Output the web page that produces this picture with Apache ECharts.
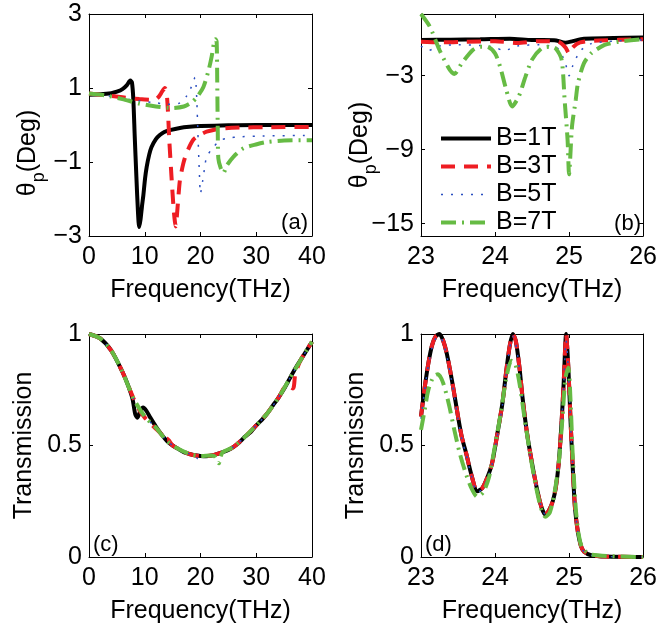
<!DOCTYPE html>
<html>
<head>
<meta charset="utf-8">
<script src="https://cdn.jsdelivr.net/npm/echarts@6/dist/echarts.min.js"></script>
<style>
html,body{margin:0;padding:0;background:#fff;}
#chart{width:660px;height:630px;}
</style>
</head>
<body>
<div id="chart"></div>
<script>
// ---------- data ----------
const seriesNames = ['B=1T', 'B=3T', 'B=5T', 'B=7T'];
const panelTags = ['(a)', '(b)', '(c)', '(d)'];
const xLabelName = 'Frequency(THz)';
const yLabelTheta = ['θ', 'p', '(Deg)'];
const yLabelTrans = 'Transmission';

const xTicksWide = [0, 10, 20, 30, 40];
const xTicksNarrow = [23, 24, 25, 26];
const yTicksA = [-3, -1, 1, 3];
const yTicksB = [-15, -9, -3];
const yTicksT = [0, 0.5, 1];

// panel (a): rotation angle vs frequency 0-40 THz
const a_B1 = [[0,0.82],[2,0.83],[4,0.86],[5,0.9],[6,0.97],[6.8,1.08],[7.4,1.2],[7.7,1.15],[7.95,0.7],[8.2,-0.3],[8.5,-1.4],[8.8,-2.4],[9.0,-2.76],[9.25,-2.55],[9.5,-2.2],[9.75,-1.9],[10.05,-1.45],[10.35,-1.13],[10.8,-0.8],[11.2,-0.6],[12,-0.38],[12.7,-0.27],[13.5,-0.19],[14.5,-0.14],[16.3,-0.08],[18,-0.05],[20,-0.03],[25,-0.01],[30,0],[40,0]];
const a_B3 = [[0,0.85],[3,0.8],[6,0.75],[9,0.7],[11,0.68],[12,0.7],[12.6,0.78],[13.1,0.9],[13.6,1.0],[13.9,0.9],[14.15,0.4],[14.4,-0.4],[14.8,-1.4],[15.2,-2.3],[15.55,-2.74],[15.9,-2.2],[16.3,-1.5],[16.9,-1.05],[17.5,-0.76],[18.7,-0.4],[20,-0.26],[21.1,-0.18],[23.5,-0.1],[27,-0.07],[32,-0.06],[40,-0.05]];
const a_B5 = [[0,0.85],[3,0.8],[6,0.72],[9,0.65],[12,0.6],[14,0.56],[16,0.58],[16.8,0.65],[17.5,0.78],[18.2,0.98],[18.7,1.15],[19.0,1.29],[19.2,1.1],[19.4,0.4],[19.6,-0.5],[19.8,-1.3],[20.0,-1.85],[20.4,-1.5],[20.8,-1.1],[21.1,-0.86],[22.3,-0.6],[23.5,-0.42],[25,-0.35],[27,-0.32],[30,-0.3],[40,-0.28]];
const a_B7 = [[0,0.85],[3,0.8],[6,0.7],[9,0.58],[12,0.5],[15,0.46],[17,0.5],[18.5,0.62],[19.5,0.78],[20.5,1.02],[21.4,1.45],[22.0,1.85],[22.4,2.2],[22.7,2.32],[22.9,2.25],[23.0,1.2],[23.1,-0.2],[23.2,-0.9],[23.6,-1.15],[24.1,-1.3],[24.7,-1.1],[25.9,-0.86],[27.7,-0.63],[30.1,-0.52],[31.9,-0.46],[35,-0.42],[40,-0.41]];

// panel (b): rotation angle vs frequency 23-26 THz
const b_B1 = [[23,-0.11],[23.4,-0.08],[23.8,-0.05],[24.2,0],[24.5,-0.11],[24.8,-0.12],[24.95,-0.33],[25.05,-0.2],[25.2,0],[25.6,0.05],[26,0.1]];
const b_B3 = [[23,-0.25],[23.3,-0.3],[23.6,-0.25],[24,-0.2],[24.3,-0.35],[24.6,-0.2],[24.85,-0.25],[24.95,-0.7],[25.0,-1.2],[25.05,-0.7],[25.15,-0.3],[25.4,-0.15],[26,-0.05]];
const b_B5 = [[23,-0.6],[23.1,-0.95],[23.25,-0.6],[23.5,-0.5],[23.8,-0.55],[24.0,-0.7],[24.12,-0.97],[24.3,-0.6],[24.6,-0.5],[24.85,-0.8],[24.95,-2.0],[25.0,-3.0],[25.05,-2.2],[25.15,-1.0],[25.3,-0.4],[25.6,-0.2],[26,-0.1]];
const b_B7 = [[23,2.0],[23.12,0.97],[23.25,-0.92],[23.39,-2.54],[23.45,-2.87],[23.55,-2.0],[23.7,-0.92],[23.8,-0.65],[23.89,-0.65],[24.0,-1.19],[24.07,-2.3],[24.15,-4.1],[24.23,-5.5],[24.32,-4.7],[24.41,-3.1],[24.5,-1.7],[24.63,-0.78],[24.75,-0.65],[24.82,-0.8],[24.9,-1.73],[24.94,-4.97],[24.98,-8.2],[25.0,-11.0],[25.04,-7.1],[25.09,-4.97],[25.12,-3.62],[25.2,-2.0],[25.3,-1.19],[25.48,-0.51],[25.67,-0.24],[26,-0.05]];

// panel (c): transmission vs frequency 0-40 THz
const c_B1 = [[0,1.0],[2,0.98],[4,0.925],[6,0.83],[7,0.77],[7.8,0.71],[8.3,0.64],[8.7,0.625],[9.2,0.655],[9.7,0.67],[10.3,0.655],[11,0.625],[12,0.585],[13,0.55],[14,0.52],[15,0.5],[16,0.485],[17,0.47],[18,0.462],[19,0.456],[20,0.453],[21,0.452],[22,0.455],[23,0.462],[24,0.47],[25,0.48],[26,0.495],[27,0.515],[28,0.54],[29,0.56],[30,0.59],[31,0.615],[32,0.645],[33,0.68],[34,0.715],[35,0.755],[36,0.8],[37,0.845],[38,0.885],[39,0.925],[40,0.965]];
const c_B3 = [[0,1.0],[2,0.98],[4,0.925],[6,0.83],[8,0.71],[9,0.66],[10,0.625],[11,0.6],[12,0.575],[13,0.55],[13.6,0.52],[14,0.53],[15,0.5],[16,0.485],[18,0.462],[20,0.453],[22,0.455],[24,0.47],[26,0.495],[28,0.54],[30,0.59],[32,0.645],[34,0.715],[35.5,0.77],[36.6,0.756],[37,0.82],[38,0.885],[40,0.965]];
const c_B5 = [[0,1.0],[2,0.98],[4,0.925],[6,0.83],[8,0.71],[10,0.63],[12,0.58],[14,0.52],[16,0.485],[18,0.462],[19,0.456],[19.5,0.44],[20,0.435],[20.4,0.452],[22,0.455],[24,0.47],[26,0.495],[28,0.54],[30,0.59],[32,0.645],[34,0.715],[36,0.8],[38,0.885],[40,0.965]];
const c_B7 = [[0,1.0],[2,0.98],[4,0.925],[6,0.83],[8,0.71],[10,0.63],[12,0.58],[14,0.52],[16,0.485],[18,0.462],[20,0.453],[22,0.455],[22.6,0.45],[23,0.43],[23.3,0.42],[23.6,0.45],[24,0.47],[26,0.495],[28,0.54],[30,0.59],[32,0.645],[34,0.715],[36,0.8],[38,0.885],[40,0.965]];

// panel (d): transmission vs frequency 23-26 THz
const d_B1 = [[23,0.63],[23.05,0.76],[23.1,0.87],[23.15,0.95],[23.2,0.99],[23.25,1.0],[23.3,0.97],[23.35,0.91],[23.43,0.77],[23.5,0.63],[23.55,0.54],[23.61,0.465],[23.68,0.37],[23.76,0.295],[23.83,0.31],[23.9,0.36],[23.96,0.42],[24.03,0.55],[24.1,0.69],[24.15,0.83],[24.2,0.95],[24.24,1.0],[24.28,0.97],[24.33,0.85],[24.37,0.72],[24.43,0.56],[24.5,0.42],[24.57,0.3],[24.63,0.22],[24.68,0.19],[24.73,0.21],[24.78,0.25],[24.82,0.31],[24.86,0.42],[24.9,0.61],[24.93,0.8],[24.96,1.0],[24.99,0.85],[25.02,0.61],[25.05,0.4],[25.08,0.22],[25.12,0.11],[25.16,0.05],[25.2,0.025],[25.3,0.008],[25.5,0.002],[26,0]];
const d_B3 = [[23,0.63],[23.05,0.76],[23.1,0.87],[23.15,0.95],[23.2,0.99],[23.25,1.0],[23.3,0.97],[23.35,0.91],[23.43,0.77],[23.5,0.63],[23.55,0.54],[23.61,0.465],[23.68,0.37],[23.76,0.295],[23.83,0.31],[23.9,0.36],[23.96,0.42],[24.03,0.55],[24.1,0.69],[24.15,0.83],[24.2,0.95],[24.24,1.0],[24.28,0.97],[24.33,0.85],[24.37,0.72],[24.43,0.56],[24.5,0.42],[24.57,0.3],[24.63,0.22],[24.68,0.19],[24.73,0.21],[24.78,0.25],[24.82,0.31],[24.86,0.42],[24.9,0.61],[24.93,0.8],[24.96,1.0],[24.99,0.85],[25.02,0.61],[25.05,0.4],[25.08,0.22],[25.12,0.11],[25.16,0.05],[25.2,0.025],[25.3,0.008],[25.5,0.002],[26,0]];
const d_B5 = [[23,0.62],[23.05,0.75],[23.1,0.86],[23.15,0.94],[23.2,0.98],[23.25,0.99],[23.3,0.96],[23.35,0.9],[23.43,0.76],[23.5,0.62],[23.55,0.53],[23.61,0.46],[23.68,0.365],[23.76,0.29],[23.83,0.305],[23.9,0.355],[23.96,0.415],[24.03,0.54],[24.1,0.68],[24.15,0.82],[24.2,0.94],[24.24,0.99],[24.28,0.96],[24.33,0.84],[24.37,0.71],[24.43,0.55],[24.5,0.41],[24.57,0.3],[24.63,0.22],[24.68,0.19],[24.73,0.21],[24.78,0.25],[24.82,0.31],[24.86,0.42],[24.9,0.6],[24.93,0.79],[24.96,0.97],[24.99,0.84],[25.02,0.6],[25.05,0.4],[25.08,0.22],[25.12,0.11],[25.16,0.05],[25.2,0.025],[25.3,0.008],[25.5,0.002],[26,0]];
const d_B7 = [[23,0.57],[23.05,0.66],[23.1,0.75],[23.17,0.81],[23.23,0.82],[23.3,0.78],[23.38,0.68],[23.45,0.57],[23.52,0.47],[23.6,0.38],[23.68,0.31],[23.76,0.27],[23.84,0.29],[23.92,0.36],[24.0,0.5],[24.08,0.65],[24.15,0.8],[24.22,0.88],[24.27,0.87],[24.33,0.78],[24.4,0.62],[24.47,0.47],[24.55,0.32],[24.62,0.22],[24.68,0.18],[24.74,0.2],[24.8,0.28],[24.86,0.42],[24.91,0.62],[24.95,0.8],[24.99,0.85],[25.02,0.7],[25.05,0.45],[25.09,0.22],[25.13,0.1],[25.18,0.04],[25.3,0.01],[26,0]];

const panelData = [
  [a_B1, a_B3, a_B5, a_B7],
  [b_B1, b_B3, b_B5, b_B7],
  [c_B1, c_B3, c_B5, c_B7],
  [d_B1, d_B3, d_B5, d_B7]
];

// ---------- styles ----------
const FONT = 'Liberation Sans, Arial, Helvetica, sans-serif';
const lineStyles = [
  {color: '#000000', width: 4, type: 'solid'},
  {color: '#ee1d23', width: 4, type: [14, 9]},
  {color: '#2b4fc0', width: 1.5, type: [2, 8]},
  {color: '#66bb44', width: 4, type: [15, 6, 2, 6]}
];
const grids = [
  {left: 89, top: 14, width: 223, height: 222},
  {left: 421, top: 14, width: 225, height: 222},
  {left: 89, top: 334, width: 223, height: 223},
  {left: 421, top: 334, width: 225, height: 223}
];
const xCfg = [
  {min: 0, max: 40, ticks: xTicksWide},
  {min: 23, max: 26, ticks: xTicksNarrow},
  {min: 0, max: 40, ticks: xTicksWide},
  {min: 23, max: 26, ticks: xTicksNarrow}
];
const yCfg = [
  {min: -3, max: 3, ticks: yTicksA},
  {min: -16, max: 2, ticks: yTicksB},
  {min: 0, max: 1, ticks: yTicksT},
  {min: 0, max: 1, ticks: yTicksT}
];

const fmt = v => String(v).replace('-', '\u2212');
const xAxes = [], yAxes = [], series = [], graphics = [];

grids.forEach((g, i) => {
  const xc = xCfg[i], yc = yCfg[i];
  const tick = {show: true, inside: true, length: 4, lineStyle: {color: '#000', width: 1}, customValues: xc.ticks};
  xAxes.push({
    type: 'value', gridIndex: i, position: 'bottom', min: xc.min, max: xc.max,
    axisLine: {show: true, onZero: false, lineStyle: {color: '#000', width: 1}},
    axisTick: tick,
    axisLabel: {show: true, customValues: xc.ticks, formatter: fmt, color: '#000', fontSize: 25, fontFamily: FONT, margin: 9},
    splitLine: {show: false},
    name: xLabelName, nameLocation: 'middle', nameGap: 42,
    nameTextStyle: {color: '#000', fontSize: 25, fontFamily: FONT}
  });
  xAxes.push({
    type: 'value', gridIndex: i, position: 'top', min: xc.min, max: xc.max,
    axisLine: {show: true, onZero: false, lineStyle: {color: '#000', width: 1}},
    axisTick: tick, axisLabel: {show: false}, splitLine: {show: false}
  });
  const ytick = {show: true, inside: true, length: 4, lineStyle: {color: '#000', width: 1}, customValues: yc.ticks};
  const yLeft = {
    type: 'value', gridIndex: i, position: 'left', min: yc.min, max: yc.max,
    axisLine: {show: true, onZero: false, lineStyle: {color: '#000', width: 1}},
    axisTick: ytick,
    axisLabel: {show: true, customValues: yc.ticks, formatter: fmt, color: '#000', fontSize: 25, fontFamily: FONT, margin: 7},
    splitLine: {show: false}
  };
  if (i >= 2) {
    Object.assign(yLeft, {
      name: yLabelTrans, nameLocation: 'middle', nameGap: 52, nameRotate: 90,
      nameTextStyle: {color: '#000', fontSize: 25, fontFamily: FONT}
    });
  }
  yAxes.push(yLeft);
  yAxes.push({
    type: 'value', gridIndex: i, position: 'right', min: yc.min, max: yc.max,
    axisLine: {show: true, onZero: false, lineStyle: {color: '#000', width: 1}},
    axisTick: ytick, axisLabel: {show: false}, splitLine: {show: false}
  });
  panelData[i].forEach((data, k) => {
    series.push({
      type: 'line', name: seriesNames[k], data: data,
      xAxisIndex: 2 * i, yAxisIndex: 2 * i,
      symbol: 'none', smooth: 0.25, animation: false,
      lineStyle: lineStyles[k], itemStyle: {color: lineStyles[k].color},
      z: 2 + k
    });
  });
});

// theta labels for (a) and (b)
[[28, 153], [360, 145]].forEach(p => {
  graphics.push({
    type: 'text', x: p[0], y: p[1], rotation: Math.PI / 2,
    style: {
      text: '{t|' + yLabelTheta[0] + '}{s|' + yLabelTheta[1] + '}{t|' + yLabelTheta[2] + '}',
      rich: {
        t: {fontSize: 25, fontFamily: FONT, fill: '#000'},
        s: {fontSize: 18, fontFamily: FONT, fill: '#000', padding: [22, 0, 0, 0]}
      },
      align: 'center', verticalAlign: 'middle', fill: '#000'
    }
  });
});
// panel tags
const tagPos = [
  {x: 308, y: 223, align: 'right'},
  {x: 641, y: 224, align: 'right'},
  {x: 93, y: 545, align: 'left'},
  {x: 425, y: 545, align: 'left'}
];
tagPos.forEach((t, i) => {
  graphics.push({
    type: 'text', x: t.x, y: t.y,
    style: {text: panelTags[i], fontSize: 22, fontFamily: FONT, fill: '#000', align: t.align, verticalAlign: 'middle'}
  });
});

const chart = echarts.init(document.getElementById('chart'), null, {renderer: 'canvas'});
chart.setOption({
  animation: false,
  backgroundColor: '#fff',
  grid: grids,
  xAxis: xAxes,
  yAxis: yAxes,
  series: series,
  legend: {
    data: seriesNames.map((n, k) => ({
      name: n,
      lineStyle: {width: lineStyles[k].width, type: lineStyles[k].type, color: lineStyles[k].color}
    })),
    orient: 'vertical', left: 434, top: 121,
    itemWidth: 50, itemHeight: 14, itemGap: 3,
    itemStyle: {opacity: 0},
    textStyle: {color: '#000', fontSize: 25, fontFamily: FONT},
    selectedMode: false
  },
  graphic: graphics
});
</script>
</body>
</html>
